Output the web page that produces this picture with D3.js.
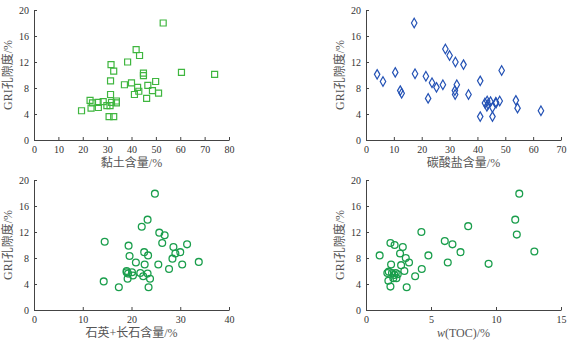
<!DOCTYPE html>
<html>
<head>
<meta charset="utf-8">
<script src="https://cdn.jsdelivr.net/npm/d3@7"></script>
<style>
	body { margin: 0; background: #fff; }
	svg text { font-family: "Liberation Serif", "Noto Sans CJK SC", serif; fill: #333; }
</style>
</head>
<body>
<div id="chart"></div>
<script>
// GRI porosity (%) vs. each composition variable
const clayX = [19.5, 23, 23.4, 24, 26.3, 26.4, 28.4, 29.9, 31.2, 30.8, 32.7, 31.6, 32.7, 31.4, 31.4, 31.8, 33.8, 33.8,
	37.1, 38.4, 40, 41.9, 42.5, 41.2, 43, 43.3, 44.9, 44.9, 46.7, 46.2, 48.6, 49.9, 51.1, 53, 60.5, 74.1];
const clayY = [4.5, 6.1, 4.9, 5.7, 5.8, 5.0, 5.9, 5.3, 5.3, 3.6, 3.6, 11.6, 10.6, 9.1, 7.0, 5.8, 6.0, 5.7,
	8.5, 12.0, 8.8, 13.9, 8.1, 7.0, 7.5, 13.0, 10.3, 9.9, 8.4, 6.4, 7.6, 9.0, 7.2, 18.0, 10.4, 10.1];

const carbX = [4.0, 6.1, 10.5, 12.3, 12.8, 17.3, 17.6, 21.5, 22.3, 23.7, 25.3, 27.6, 28.5, 30, 32.1, 31.9, 32, 32.6,
	35, 36.8, 41, 41, 42.7, 43.5, 43.4, 43.8, 44.7, 45.4, 45.4, 46.6, 46.7, 48, 48.7, 53.8, 54.4, 62.8];
const carbY = [10.1, 9.0, 10.4, 7.6, 7.2, 18.0, 10.2, 9.8, 6.4, 8.8, 8.1, 8.5, 14.0, 13.0, 12.0, 7.6, 7.0, 8.5,
	11.6, 7.0, 9.1, 3.6, 5.7, 6.0, 5.2, 5.5, 5.9, 5.0, 3.6, 5.8, 5.7, 6.0, 10.7, 6.1, 4.9, 4.5];

const qfX = [14.3, 14.5, 17.4, 19.4, 19.6, 19.0, 19.0, 19.2, 19.3, 20.1, 20.3, 20.9, 21.8, 22.1, 22.4, 22.6, 22.7, 23.3,
	23.4, 23.3, 23.5, 23.8, 24.8, 25.5, 25.7, 26.3, 26.8, 27.7, 28.4, 28.6, 29, 30, 30.4, 31.4, 33.8];
const qfY = [4.4, 10.5, 3.5, 9.9, 8.3, 6.0, 5.8, 4.8, 5.6, 5.8, 5.3, 7.3, 5.7, 12.8, 5.2, 8.9, 7.0, 13.9,
	8.4, 5.6, 3.5, 4.8, 17.9, 7.0, 11.9, 10.3, 11.5, 6.3, 7.9, 9.7, 8.7, 8.9, 7.0, 10.1, 7.4];

const tocX = [1.05, 1.64, 1.75, 1.72, 1.88, 1.88, 1.93, 2.0, 2.1, 2.18, 2.2, 2.29, 2.34, 2.44, 2.62, 2.7, 2.83, 2.95,
	3.06, 3.13, 3.31, 3.78, 4.26, 4.29, 4.8, 6.06, 6.29, 6.65, 7.27, 7.86, 9.43, 11.48, 11.6, 11.79, 12.95];
const tocY = [8.4, 5.7, 5.9, 4.5, 10.3, 3.6, 7.0, 5.7, 4.9, 5.4, 10.0, 5.7, 4.9, 5.5, 8.7, 6.9, 9.7, 6.0,
	8.0, 3.5, 7.3, 5.2, 12.0, 6.3, 8.4, 10.6, 7.3, 10.1, 8.9, 12.9, 7.1, 13.9, 11.6, 17.9, 9.0];

const yTicks = [0, 4, 8, 12, 16, 20];
const yTitle = "GRI孔隙度/%";

const panels = [
	{ xs: clayX, ys: clayY, xMax: 80, xTicks: [0, 10, 20, 30, 40, 50, 60, 70, 80], title: "黏土含量/%", shape: "square", color: "#3fb63f" },
	{ xs: carbX, ys: carbY, xMax: 70, xTicks: [0, 10, 20, 30, 40, 50, 60, 70], title: "碳酸盐含量/%", shape: "diamond", color: "#2452b5" },
	{ xs: qfX, ys: qfY, xMax: 40, xTicks: [0, 10, 20, 30, 40], title: "石英+长石含量/%", shape: "circle", color: "#1a9e4c" },
	{ xs: tocX, ys: tocY, xMax: 15, xTicks: [0, 5, 10, 15], title: "w(TOC)/%", shape: "circle", color: "#1a9e4c" }
];

// plot-area origin of each panel
const origins = [[34, 10], [366, 10], [34, 180], [366, 180]];
const width = 195, height = 130;

const svg = d3.select("#chart").append("svg")
	.attr("width", 573)
	.attr("height", 341);

panels.forEach(function(p, i) {
	const g = svg.append("g")
		.attr("transform", "translate(" + origins[i] + ")");

	const x = d3.scaleLinear().domain([0, p.xMax]).range([0, width]);
	const y = d3.scaleLinear().domain([0, 20]).range([height, 0]);

	// ticks point inward, axis line only on left and bottom
	const xAxis = d3.axisBottom(x).tickValues(p.xTicks).tickSizeInner(-3).tickSizeOuter(0).tickPadding(6);
	const yAxis = d3.axisLeft(y).tickValues(yTicks).tickSizeInner(-3).tickSizeOuter(0).tickPadding(5);

	const gx = g.append("g")
		.attr("transform", "translate(0," + height + ")")
		.call(xAxis);
	const gy = g.append("g").call(yAxis);

	[gx, gy].forEach(function(a) {
		a.select(".domain").attr("stroke", "#444");
		a.selectAll(".tick line").attr("stroke", "#444");
		a.selectAll(".tick text").attr("font-size", 10).attr("fill", "#333")
			.style("font-family", "'Liberation Serif', serif");
	});

	// axis titles
	const xt = g.append("text")
		.attr("x", width / 2)
		.attr("y", height + 27)
		.attr("text-anchor", "middle")
		.attr("font-size", 12)
		.style("fill", "#555");
	if (p.title.startsWith("w(")) {
		xt.append("tspan").attr("font-style", "italic").text("w");
		xt.append("tspan").text(p.title.slice(1));
	} else {
		xt.text(p.title);
	}

	g.append("text")
		.attr("transform", "translate(-22," + (height / 2) + ") rotate(-90)")
		.attr("text-anchor", "middle")
		.attr("font-size", 12)
		.style("fill", "#555")
		.text(yTitle);

	const pts = p.xs.map(function(v, j) { return { x: v, y: p.ys[j] }; });

	const sym = p.shape === "square" ? d3.symbolSquare : d3.symbolDiamond;
	if (p.shape === "circle") {
		g.selectAll("circle.pt")
			.data(pts)
			.enter().append("circle")
			.attr("class", "pt")
			.attr("cx", function(d) { return x(d.x); })
			.attr("cy", function(d) { return y(d.y); })
			.attr("r", 3.4)
			.attr("fill", "none")
			.attr("stroke", p.color)
			.attr("stroke-width", 1.3);
	} else {
		g.selectAll("path.pt")
			.data(pts)
			.enter().append("path")
			.attr("class", "pt")
			.attr("transform", function(d) { return "translate(" + x(d.x) + "," + y(d.y) + ")"; })
			.attr("d", d3.symbol().type(sym).size(p.shape === "square" ? 36 : 26))
			.attr("fill", "none")
			.attr("stroke", p.color)
			.attr("stroke-width", 1.2);
	}
});
</script>
</body>
</html>
